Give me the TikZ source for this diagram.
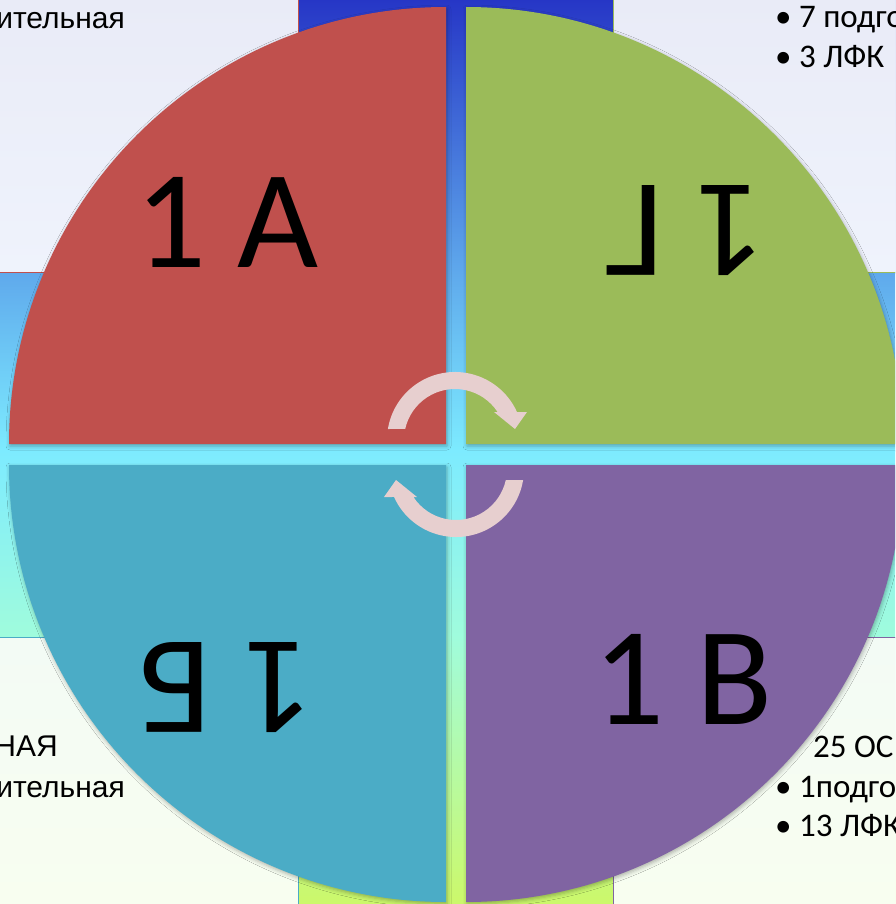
\documentclass[tikz,border=0pt]{standalone}
\usepackage{fontspec}
\setmainfont{Carlito}
\newfontfamily\arialf{Liberation Sans}
\usetikzlibrary{shadows.blur}
\definecolor{qred}{HTML}{C0504D}
\definecolor{qgreen}{HTML}{9BBB59}
\definecolor{qpurple}{HTML}{8064A2}
\definecolor{qteal}{HTML}{4BACC6}
\definecolor{arrowpink}{HTML}{E7CFCF}
\definecolor{bga}{HTML}{2636C6}
\definecolor{bgb}{HTML}{5FA9EC}
\definecolor{bgc}{HTML}{7DEBFF}
\definecolor{bgd}{HTML}{A0FCDC}
\definecolor{bge}{HTML}{CCF86A}
\definecolor{paneltop}{HTML}{E9EBF7}
\definecolor{panelmid}{HTML}{EFF3FC}
\definecolor{panelbota}{HTML}{F3FBF5}
\definecolor{panelbotb}{HTML}{F8FEF0}
\tikzset{
  quad/.style={blur shadow={shadow xshift=1pt,shadow yshift=-2pt,shadow blur radius=4pt,shadow opacity=30}},
  biglbl/.style={inner sep=0pt,font=\fontsize{140}{140}\selectfont},
  caltxt/.style={inner sep=0pt,font=\fontsize{33}{38}\selectfont},
  arialtxt/.style={inner sep=0pt,font=\arialf\fontsize{30}{36}\selectfont},
  toppanel/.style={top color=paneltop,bottom color=panelmid,line width=1pt},
  botpanel/.style={top color=panelbota,bottom color=panelbotb,line width=1pt},
  arrowshape/.style={fill=arrowpink}
}
\begin{document}
\begin{tikzpicture}[x=1pt,y=-1pt]
\useasboundingbox (0,0) rectangle (895,904);
\clip (0,0) rectangle (895,904);
% background gradient
\shade[top color=bga,bottom color=bgb] (0,-1) rectangle (895,273);
\shade[top color=bgb,bottom color=bgc] (0,272) rectangle (895,451);
\shade[top color=bgc,bottom color=bgd] (0,450) rectangle (895,638);
\shade[top color=bgd,bottom color=bge] (0,637) rectangle (895,905);
% panels
\shade[toppanel] (-5,-5) rectangle (298,272);
\draw[qred,line width=1pt] (298,-5) -- (298,272) -- (-5,272);
\shade[toppanel] (613,-5) rectangle (900,272);
\draw[qgreen,line width=1pt] (613,-5) -- (613,272) -- (900,272);
\shade[botpanel] (-5,637) rectangle (298,909);
\draw[qteal,line width=1pt] (-5,637) -- (298,637) -- (298,909);
\shade[botpanel] (613,637) rectangle (900,909);
\draw[qpurple,line width=1pt] (900,637) -- (613,637) -- (613,909);
% panel texts
\node[arialtxt,anchor=base east] (tla) at (125,29) {ительная};
\node[arialtxt,anchor=base east] (bla) at (58,756) {НАЯ};
\node[arialtxt,anchor=base east] (blb) at (125,797) {ительная};
\node[caltxt,anchor=base west] (tra) at (775,28) {• 7 подго};
\node[caltxt,anchor=base west] (trb) at (775,67.5) {• 3 ЛФК};
\node[caltxt,anchor=base west] (brz) at (813,757) {25 ОС};
\node[caltxt,anchor=base west] (bra) at (775,797) {• 1подго};
\node[caltxt,anchor=base west] (brb) at (775,836.5) {• 13 ЛФК};
% quadrants
\fill[qred,quad] (446,444) -- (9,444) arc[start angle=180,end angle=270,radius=437] -- cycle;
\fill[qgreen,quad] (466,444) -- (466,7) arc[start angle=270,end angle=360,radius=437] -- cycle;
\fill[qpurple,quad] (466,465) -- (903,465) arc[start angle=0,end angle=90,radius=437] -- cycle;
\fill[qteal,quad] (446,465) -- (446,902) arc[start angle=90,end angle=180,radius=437] -- cycle;
% labels
\node[biglbl] (la) at (227,222) {1 А};
\node[biglbl,rotate=180] (lg) at (685,230.5) {1 Г};
\node[biglbl] (lv) at (683,679.5) {1 В};
\node[biglbl,rotate=180] (lb) at (225.5,688) {1 Б};
% circular arrows
\fill[arrowshape] (387.9,429) arc[start angle=-170.7,end angle=-24.3,radius=68] -- (527,412) -- (515,429) -- (494,412) -- (497.6,412) arc[start angle=-33.3,end angle=-167.5,radius=51] -- cycle;
\begin{scope}[rotate around={180:(455.5,454.5)}]
\fill[arrowshape] (387.9,429) arc[start angle=-170.7,end angle=-24.3,radius=68] -- (527,412) -- (515,429) -- (494,412) -- (497.6,412) arc[start angle=-33.3,end angle=-167.5,radius=51] -- cycle;
\end{scope}
\end{tikzpicture}
\end{document}
